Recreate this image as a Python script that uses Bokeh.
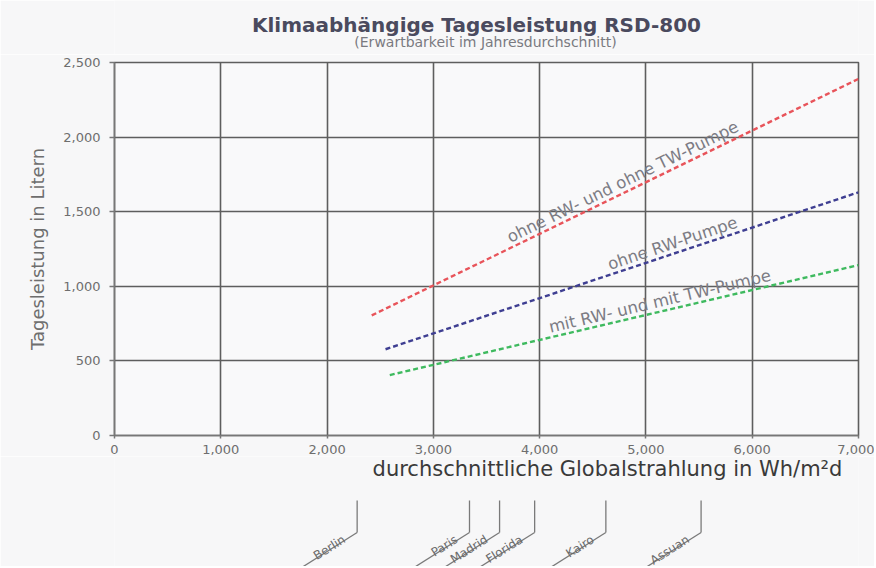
import math
from bokeh.plotting import figure
from bokeh.models import Range1d, FixedTicker, NumeralTickFormatter
from bokeh.layouts import column
from bokeh.embed import file_html
from bokeh.resources import INLINE
from bokeh.core.properties import value

# ---------------- data ----------------
title_text = "Klimaabhängige Tagesleistung RSD-800"
subtitle_text = "(Erwartbarkeit im Jahresdurchschnitt)"
x_label = "durchschnittliche Globalstrahlung in Wh/m²d"
y_label = "Tagesleistung in Litern"

x_ticks = [0, 1000, 2000, 3000, 4000, 5000, 6000, 7000]
y_ticks = [0, 500, 1000, 1500, 2000, 2500]

series_names = ["ohne RW- und ohne TW-Pumpe", "ohne RW-Pumpe", "mit RW- und mit TW-Pumpe"]
red_x = [2420, 7000]
red_y = [805, 2390]
blue_x = [2550, 7000]
blue_y = [578, 1630]
green_x = [2590, 7000]
green_y = [405, 1142]
label_start_x = [3744, 4675, 4111]

cities = ["Berlin", "Paris", "Madrid", "Florida", "Kairo", "Assuan"]
city_x = [2283, 3340, 3623, 3953, 4623, 5519]

# ---------------- style / layout ----------------
FONT = "DejaVu Sans"
BG = "#f7f7f8"
PLOT_BG = "#f9f9fa"
GRID = "#5e5e5e"
TXT = "#6e6e6e"
COLORS = ["#e8545a", "#3f3f92", "#3fba5f"]

W = 874
H_HEAD = 54
LEFT, RIGHT, TOP, BOTTOM = 114, 16, 8, 18
FRAME_H = 376
H_MAIN = TOP + FRAME_H + BOTTOM
H_LOW = 110

xr = Range1d(0, 7000)
yr = Range1d(0, 2500)
px_x = (W - LEFT - RIGHT) / 7000.0
px_y = FRAME_H / 2500.0

# ---------------- header with titles ----------------
ph = figure(width=W, height=H_HEAD, x_range=xr, y_range=Range1d(0, H_HEAD),
            output_backend="svg", toolbar_location=None,
            x_axis_location=None, y_axis_location=None,
            min_border_left=LEFT, min_border_right=RIGHT, min_border_top=0, min_border_bottom=0,
            background_fill_color=BG, border_fill_color=BG)
ph.grid.visible = False
ph.outline_line_color = None
ph.text(x=[(476 - LEFT) / px_x], y=[H_HEAD - 24], text=[title_text], text_align="center",
        text_baseline="middle", text_font=value(FONT), text_font_size="20px",
        text_font_style="bold", text_color="#4a4a5e")
ph.text(x=[(485 - LEFT) / px_x], y=[H_HEAD - 41], text=[subtitle_text], text_align="center",
        text_baseline="middle", text_font=value(FONT), text_font_size="14px",
        text_color="#7a7a80")

# ---------------- main chart ----------------
p = figure(width=W, height=H_MAIN, x_range=xr, y_range=yr,
           output_backend="svg", toolbar_location=None,
           min_border_left=LEFT, min_border_right=RIGHT,
           min_border_top=TOP, min_border_bottom=BOTTOM,
           background_fill_color=PLOT_BG, border_fill_color=BG)

p.outline_line_color = GRID
p.outline_line_width = 1.6

for g, t in ((p.xgrid, x_ticks), (p.ygrid, y_ticks)):
    g.ticker = FixedTicker(ticks=t)
    g.grid_line_color = GRID
    g.grid_line_width = 1.6

p.xaxis.ticker = FixedTicker(ticks=x_ticks)
p.yaxis.ticker = FixedTicker(ticks=y_ticks)
for ax in (p.xaxis, p.yaxis):
    ax.formatter = NumeralTickFormatter(format="0,0")
    ax.minor_tick_line_color = None
    ax.major_tick_in = 0
    ax.axis_line_color = "#777777"
    ax.axis_line_width = 1.5
    ax.major_tick_line_color = "#777777"
    ax.major_tick_line_width = 1.5
    ax.major_label_text_font = FONT
    ax.major_label_text_font_size = "13px"
    ax.major_label_text_color = TXT
p.xaxis.major_tick_out = 3
p.xaxis.major_label_standoff = 6
p.yaxis.major_tick_out = 5
p.yaxis.major_label_standoff = 9
p.yaxis.axis_label = y_label
p.yaxis.axis_label_text_font = FONT
p.yaxis.axis_label_text_font_style = "normal"
p.yaxis.axis_label_text_font_size = "18px"
p.yaxis.axis_label_text_color = TXT
p.yaxis.axis_label_standoff = 12

series = [(red_x, red_y), (blue_x, blue_y), (green_x, green_y)]
lx, ly, la = [], [], []
for (sx, sy), c, x0 in zip(series, COLORS, label_start_x):
    p.line(sx, sy, line_color=c, line_width=2.4, line_dash="5 3")
    slope = (sy[1] - sy[0]) / (sx[1] - sx[0])
    ang = math.atan(slope * px_y / px_x)
    y0 = sy[0] + slope * (x0 - sx[0])
    off = 10.0
    lx.append(x0 - off * math.sin(ang) / px_x)
    ly.append(y0 + off * math.cos(ang) / px_y)
    la.append(ang)

p.text(x=lx, y=ly, text=series_names, angle=la,
       text_align="left", text_baseline="alphabetic",
       text_font=value(FONT), text_font_size="16.5px", text_color="#7c7c84")

# ---------------- lower strip with locations ----------------
p2 = figure(width=W, height=H_LOW, x_range=xr, y_range=Range1d(0, H_LOW),
            output_backend="svg", toolbar_location=None,
            x_axis_location=None, y_axis_location=None,
            min_border_left=LEFT, min_border_right=RIGHT,
            min_border_top=0, min_border_bottom=0,
            background_fill_color=BG, border_fill_color=BG)
p2.grid.visible = False
p2.outline_line_color = None

p2.text(x=[4638], y=[98], text=[x_label],
        text_align="center", text_baseline="middle",
        text_font=value(FONT), text_font_size="21px", text_color="#3a3a3a")

top_d, corner_d = 66, 34
dx_px, dy_px = 57.0, 36.0
diag_ang = math.atan(dy_px / dx_px)
n = len(cities)
p2.segment(x0=city_x, y0=[top_d] * n, x1=city_x, y1=[corner_d] * n,
           line_color="#7a7a7a", line_width=1.3)
p2.segment(x0=city_x, y0=[corner_d] * n,
           x1=[c - dx_px / px_x for c in city_x], y1=[corner_d - dy_px] * n,
           line_color="#7a7a7a", line_width=1.3)
back = 12.0
gap = 2.0
tx = [c - back / px_x - gap * math.sin(diag_ang) / px_x for c in city_x]
ty = [corner_d - back * dy_px / dx_px + gap * math.cos(diag_ang)] * n
p2.text(x=tx, y=ty, text=cities, angle=[diag_ang] * n,
        text_align="right", text_baseline="alphabetic",
        text_font=value(FONT), text_font_size="12px", text_color="#6a6a6a")

layout = column(ph, p, p2)
open("out.html", "w").write(file_html(layout, INLINE))
